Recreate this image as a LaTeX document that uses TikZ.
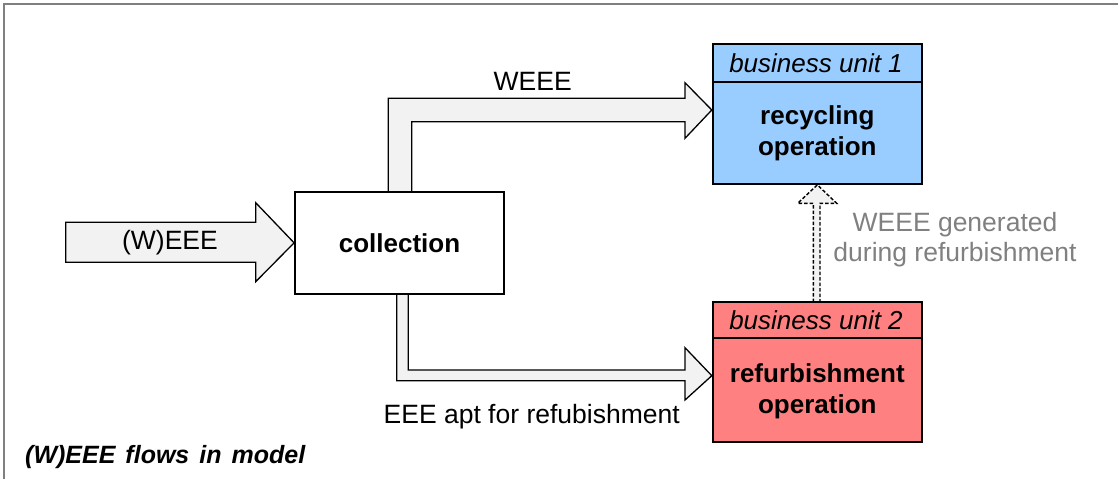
\documentclass[tikz,border=0pt]{standalone}
\usepackage{fontspec}
\setmainfont{Liberation Sans}
\usetikzlibrary{calc}
\definecolor{unitblue}{RGB}{153,204,255}
\definecolor{unitred}{RGB}{255,128,128}
\definecolor{flowfill}{RGB}{242,242,242}
\definecolor{notegray}{RGB}{128,128,128}
\definecolor{framegray}{RGB}{128,128,128}
\begin{document}
\begin{tikzpicture}[x=1pt,y=-1pt,
  lbl/.style={font=\fontsize{26.5}{30}\selectfont, inner sep=0pt, align=center},
  bold/.style={lbl, font=\fontsize{26}{31}\selectfont\bfseries},
  hdr/.style={lbl, font=\fontsize{26}{30}\selectfont\itshape},
  colbox/.style={draw=black, line width=1.8pt, fill=white, minimum width=209pt, minimum height=102.3pt, inner sep=0pt},
  unitbox/.style={draw=black, line width=1.8pt, minimum width=209.3pt, inner sep=0pt},
  fat/.style={draw=black, line width=1.3pt, fill=flowfill, line join=miter},
  dashedflow/.style={draw=black, line width=1.4pt, fill=flowfill, dash pattern=on 3.5pt off 2pt, line join=miter}]
\useasboundingbox (0,0) rectangle (1118,479);
% outer frame
\draw[framegray, line width=1.5pt] (4,479) -- (4,4) -- (1118,4);

% boxes (named, used as anchors for the flows)
\node[colbox] (col) at (399.5,242.85) {};
\node[unitbox, fill=unitblue, minimum height=140pt] (rec) at (817.35,114) {};
\node[unitbox, fill=unitred, minimum height=139.7pt] (ref) at (817.35,371.85) {};

% flows
\draw[fat] (65.7,222.3) -- (255.7,222.3) -- (255.7,202.7) -- (col.west)
  -- (255.7,281.7) -- (255.7,262.3) -- (65.7,262.3) -- cycle;
\draw[fat] (388.3,191.7) -- (388.3,98.3) -- (685,98.3) -- (685,82.7)
  -- ([yshift=4pt]rec.west) -- (685,138.3) -- (685,121.7) -- (411.7,121.7) -- (411.7,191.7);
\draw[fat] (396.7,294) -- (396.7,380.7) -- (685,380.7) -- (685,400)
  -- ([yshift=-3.85pt]ref.west) -- (685,347.7) -- (685,370) -- (408.3,370) -- (408.3,294);
\draw[dashedflow] (813.3,302) -- (813.3,203.3) -- (797.7,203.3) -- (rec.south)
  -- (836.7,203.3) -- (820,203.3) -- (820,302);

% boxes redrawn on top of the flow ends
\node[colbox] at (col) {};
\node[unitbox, fill=unitblue, minimum height=140pt] at (rec) {};
\node[unitbox, fill=unitred, minimum height=139.7pt] at (ref) {};
\draw[line width=1.8pt] (rec.west |- 0,81.7) -- (rec.east |- 0,81.7);
\draw[line width=1.8pt] (ref.west |- 0,338) -- (ref.east |- 0,338);

% texts
\node[bold] (coltxt) at (col) {collection};
\node[hdr] (hdr1) at (816,63) {business unit 1};
\node[bold] (rectxt) at (817.3,133) {recycling\\operation};
\node[hdr] (hdr2) at (816,320) {business unit 2};
\node[bold] (reftxt) at (817.3,391) {refurbishment\\operation};

\node[lbl] (inlbl) at (170,242.5) {(W)EEE};
\node[lbl] (weeelbl) at (532.7,81.7) {WEEE};
\node[lbl] (eeelbl) at (531.7,416.7) {EEE apt for refubishment};
\node[lbl, text=notegray] (genlbl) at (955,240) {WEEE generated\\during refurbishment};

\node[anchor=west, inner sep=0pt, font=\fontsize{25}{28}\selectfont\bfseries\itshape] (title) at (25,457)
  {\spaceskip=10pt plus 1pt (W)EEE flows in model};
\end{tikzpicture}
\end{document}
